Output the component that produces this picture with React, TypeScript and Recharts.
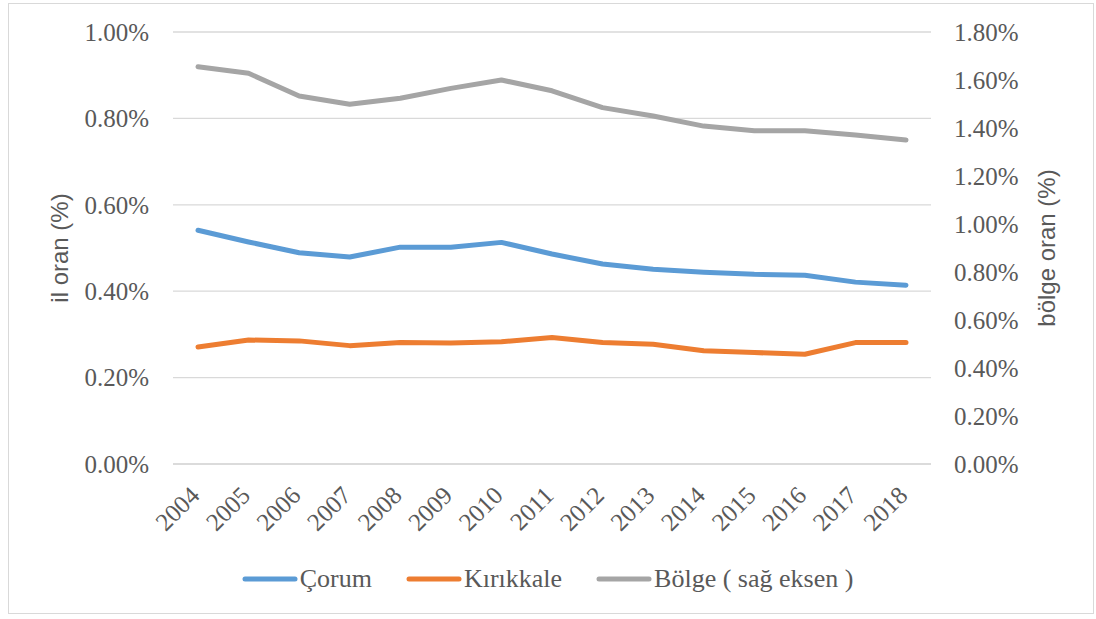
import React from 'react';
import { LineChart, Line, XAxis, YAxis, CartesianGrid, Legend } from 'recharts';

const years = ['2004','2005','2006','2007','2008','2009','2010','2011','2012','2013','2014','2015','2016','2017','2018'];
const corum = [0.541,0.514,0.489,0.479,0.502,0.502,0.513,0.486,0.463,0.451,0.444,0.439,0.437,0.421,0.414];
const kirikkale = [0.271,0.287,0.285,0.274,0.281,0.280,0.283,0.293,0.281,0.277,0.262,0.258,0.254,0.281,0.281];
const bolge = [1.655,1.628,1.533,1.499,1.524,1.565,1.600,1.555,1.485,1.450,1.408,1.389,1.389,1.371,1.350];
const leftTicks = [0,0.2,0.4,0.6,0.8,1.0];
const rightTicks = [0,0.2,0.4,0.6,0.8,1.0,1.2,1.4,1.6,1.8];

const seriesNames = { corum: 'Çorum', kirikkale: 'Kırıkkale', bolge: 'Bölge ( sağ eksen )' };
const colors = { corum: '#5B9BD5', kirikkale: '#ED7D31', bolge: '#A5A5A5' };

const data = years.map((y, i) => ({ year: y, corum: corum[i], kirikkale: kirikkale[i], bolge: bolge[i] }));

const SERIF = 'Liberation Serif, Times New Roman, DejaVu Serif, serif';
const SANS = 'Liberation Sans, Arial, sans-serif';
const TXT = '#595959';

const fmt = (v: number) => `${v.toFixed(2)}%`;

const YearTick = (props: any) => {
  const { x, y, payload } = props;
  const ax = x + 3;
  const ay = y + 33;
  return (
    <text x={ax} y={ay} transform={`rotate(-45, ${ax}, ${ay})`} textAnchor="end"
      style={{ fontFamily: SERIF, fontSize: 25 }} fill={TXT}>{payload.value}</text>
  );
};

const LegendContent = () => {
  const items = [
    { key: 'corum', name: seriesNames.corum, color: colors.corum },
    { key: 'kirikkale', name: seriesNames.kirikkale, color: colors.kirikkale },
    { key: 'bolge', name: seriesNames.bolge, color: colors.bolge },
  ];
  return (
    <div style={{ display: 'flex', justifyContent: 'center', alignItems: 'center', gap: 34, marginLeft: -8 }}>
      {items.map((it) => (
        <div key={it.key} style={{ display: 'flex', alignItems: 'center' }}>
          <svg width={56} height={8} style={{ marginRight: 2 }}>
            <line x1={3} y1={4} x2={53} y2={4} stroke={it.color} strokeWidth={5} strokeLinecap="round" />
          </svg>
          <span style={{ fontFamily: SERIF, fontSize: 26, color: TXT, lineHeight: '30px' }}>{it.name}</span>
        </div>
      ))}
    </div>
  );
};

const tickStyle = { fontFamily: SERIF, fontSize: 25, fill: TXT };

export default function App() {
  return (
    <div style={{ position: 'absolute', left: 8, top: 3, width: 1086, height: 611, border: '1px solid #D9D9D9', boxSizing: 'border-box', background: '#fff', fontFamily: SERIF }}>
      <LineChart width={1085} height={610} data={data} margin={{ top: 28, right: 0, left: 0, bottom: 0 }}
        style={{ fontFamily: SERIF }}>
        <CartesianGrid yAxisId="left" vertical={false} stroke="#D9D9D9" strokeWidth={1.3} />
        <XAxis dataKey="year" height={150} tickSize={0} tickMargin={0} interval={0} padding={{ left: 25, right: 25 }}
          axisLine={{ stroke: '#D9D9D9', strokeWidth: 1.3 }} tickLine={false} tick={<YearTick />} />
        <YAxis yAxisId="left" orientation="left" width={164} domain={[0, 1]} ticks={leftTicks}
          tickFormatter={fmt} axisLine={false} tickLine={false} tickSize={0} tickMargin={24}
          tick={{ ...tickStyle, style: { fontFamily: SERIF } }}
          label={{ value: 'il oran (%)', angle: -90, position: 'center', dx: -32, style: { fontFamily: SANS, fontSize: 24, fill: TXT } }} />
        <YAxis yAxisId="right" orientation="right" width={163} domain={[0, 1.8]} ticks={rightTicks}
          tickFormatter={fmt} axisLine={false} tickLine={false} tickSize={0} tickMargin={23}
          tick={{ ...tickStyle, style: { fontFamily: SERIF } }}
          label={{ value: 'bölge oran (%)', angle: -90, position: 'center', dx: 34, style: { fontFamily: SANS, fontSize: 24, fill: TXT } }} />
        <Legend layout="horizontal" verticalAlign="middle" align="center" content={<LegendContent />}
          wrapperStyle={{ top: 560, left: 0, width: 1085 }} />
        <Line yAxisId="left" type="linear" dataKey="corum" name={seriesNames.corum} stroke={colors.corum} strokeWidth={5} strokeLinecap="round" strokeLinejoin="round" dot={false} isAnimationActive={false} />
        <Line yAxisId="left" type="linear" dataKey="kirikkale" name={seriesNames.kirikkale} stroke={colors.kirikkale} strokeWidth={5} strokeLinecap="round" strokeLinejoin="round" dot={false} isAnimationActive={false} />
        <Line yAxisId="right" type="linear" dataKey="bolge" name={seriesNames.bolge} stroke={colors.bolge} strokeWidth={5} strokeLinecap="round" strokeLinejoin="round" dot={false} isAnimationActive={false} />
      </LineChart>
    </div>
  );
}
